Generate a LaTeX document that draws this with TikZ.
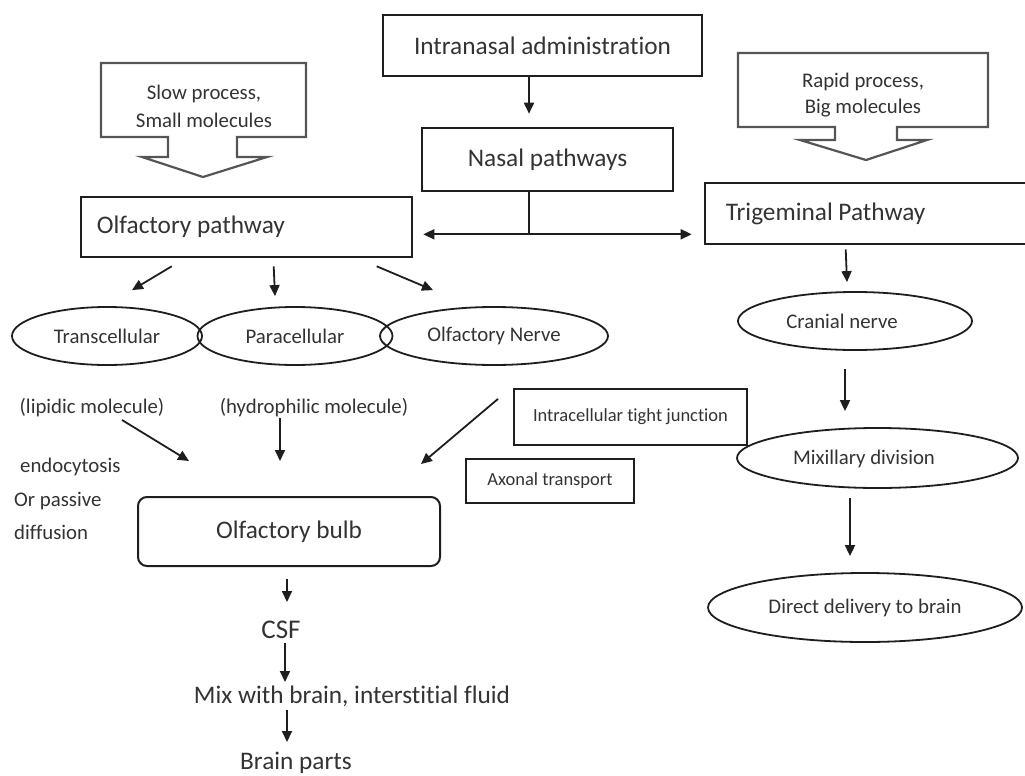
\documentclass[tikz,border=0pt]{standalone}
\usepackage{fontspec}
\setmainfont{Carlito}[Ligatures=NoCommon]
\usetikzlibrary{shapes.geometric,arrows.meta,calc}
\definecolor{ink}{HTML}{333333}
\definecolor{edge}{HTML}{1E1E1E}
\definecolor{callgray}{HTML}{555555}
\begin{document}
\begin{tikzpicture}[x=1pt,y=-1pt,
  every node/.style={text=ink, inner sep=0pt},
  big/.style={font=\fontsize{25.3}{30}\selectfont},
  mid/.style={font=\fontsize{20.8}{24}\selectfont},
  small/.style={font=\fontsize{18.5}{22}\selectfont},
  box/.style={draw=edge, line width=2.6pt, rectangle},
  oval/.style={draw=edge, line width=1.8pt, ellipse, mid},
  arr/.style={draw=edge, line width=1.8pt, -{Triangle[length=11pt,width=10pt]}},
  callout/.style={draw=callgray, line width=2.2pt, line join=miter},
]
\clip (0,0) rectangle (1025,776);

% ---- top boxes ----
\node[box, big, minimum width=319pt, minimum height=61pt] (intra) at (542.5,45.5) {Intranasal administration};
\node[box, big, minimum width=251pt, minimum height=63pt] (nasal) at (547.5,159.5) {Nasal pathways};
\node[box, minimum width=331pt, minimum height=60pt] (olf) at (246.5,227) {};
\node[big, anchor=west] (olft) at ($(olf.west)+(17,0)$) {Olfactory pathway};
\node[box, minimum width=330pt, minimum height=61pt] (trig) at (870,213.5) {};
\node[big, anchor=west] (trigt) at ($(trig.west)+(22,0)$) {Trigeminal Pathway};

% ---- callout arrows ----
\draw[callout] (101,63) -- (306,63) -- (306,137) -- (237,137) -- (237,157) -- (267,157)
  -- (203,177) -- (142,157) -- (168,157) -- (168,137) -- (101,137) -- cycle;
\node[align=center, font=\fontsize{20.8}{28}\selectfont] (slow) at (204,106) {Slow process,\\Small molecules};
\draw[callout] (738,53) -- (988,53) -- (988,127) -- (897,127) -- (897,140) -- (927,140)
  -- (866,160) -- (800,140) -- (835,140) -- (835,127) -- (738,127) -- cycle;
\node[align=center, font=\fontsize{20.8}{26}\selectfont] (rapid) at (863,95) {Rapid process,\\Big molecules};

% ---- olfactory branch ----
\node[oval, minimum width=190pt, minimum height=58pt] (trans) at (107,336) {Transcellular};
\node[oval, minimum width=195pt, minimum height=58pt] (para) at (295,336) {Paracellular};
\node[oval, minimum width=228pt, minimum height=58pt] (nerve) at (494,336) {Olfactory Nerve};

\node[mid] (lip) at (92,408) {(lipidic molecule)};
\node[mid] (hydro) at (314,408) {(hydrophilic molecule)};
\node[mid, anchor=west] (endo) at (20,467) {endocytosis};
\node[mid, anchor=west] (orp) at (14,501) {Or passive};
\node[mid, anchor=west] (diff) at (14,532) {diffusion};

\node[box, small, line width=2.4pt, minimum width=233pt, minimum height=56pt] (tight) at (630.5,417) {Intracellular tight junction};
\node[box, small, line width=2.4pt, minimum width=168pt, minimum height=44pt] (axon) at (550,481) {Axonal transport};

\node[draw=edge, line width=2pt, rounded corners=9pt, big, minimum width=302pt, minimum height=69pt] (bulb) at (289,531.5) {Olfactory bulb};
\node[font=\fontsize{27}{32}\selectfont] (csf) at (281,630) {CSF};
\node[big] (mix) at (352,696) {Mix with brain, interstitial fluid};
\node[big] (brain) at (296,763) {Brain parts};

% ---- trigeminal branch ----
\node[oval, minimum width=234pt, minimum height=58pt] (cran) at (855,321) {};
\node[mid] (crant) at (842,321) {Cranial nerve};
\node[oval, minimum width=281pt, minimum height=60pt] (mixd) at (877.5,458) {};
\node[mid] (mixdt) at (864,459) {Mixillary division};
\node[oval, minimum width=314pt, minimum height=69pt] (direct) at (865,607.5) {Direct delivery to brain};

% ---- connectors ----
\draw[arr] ($(intra.south)+(-13.5,0)$) -- ($(nasal.north)+(-18.5,-13)$);
\coordinate (split) at ($(nasal.south)+(-18.5,42)$);
\draw[draw=edge, line width=1.8pt] ($(nasal.south)+(-18.5,0)$) -- (split);
\draw[draw=edge, line width=1.8pt,
  {Triangle[length=11pt,width=10pt]}-{Triangle[length=11pt,width=10pt]},
  shorten <=10pt, shorten >=12pt] (olf.east |- split) -- (trig.west |- split);

\draw[arr] ($(olf.south west)+(92,8)$) -- ($(trans.north)+(25,-16)$);
\draw[arr] ($(olf.south west)+(194,8)$) -- ($(para.north)+(-20,-10)$);
\draw[arr] ($(olf.south west)+(297,8)$) -- ($(nerve.north)+(-61,-16)$);

\draw[arr] ($(lip.center)+(30,12)$) -- ($(bulb.north west)+(52,-35)$);
\draw[arr] ($(hydro.center)+(-34,10)$) -- ($(bulb.north)+(-9,-35)$);
\draw[arr] ($(nerve.south)+(4,33)$) -- ($(bulb.north east)+(-20,-32)$);

\draw[arr] ($(bulb.south)+(-2,12)$) -- ($(csf.center)+(6,-28)$);
\draw[arr] ($(csf.center)+(4,13)$) -- ($(mix.center)+(-67,-14)$);
\draw[arr] ($(mix.center)+(-65,14)$) -- ($(brain.center)+(-9,-21)$);

\draw[arr] ($(trig.south west)+(142,4)$) -- ($(cran.north)+(-8,-9)$);
\draw[arr] ($(cran.south)+(-10,18)$) -- ($(mixd.north)+(-32.5,-16)$);
\draw[arr] ($(mixd.south)+(-27.5,9)$) -- ($(direct.north)+(-15,-16)$);
\end{tikzpicture}
\end{document}
